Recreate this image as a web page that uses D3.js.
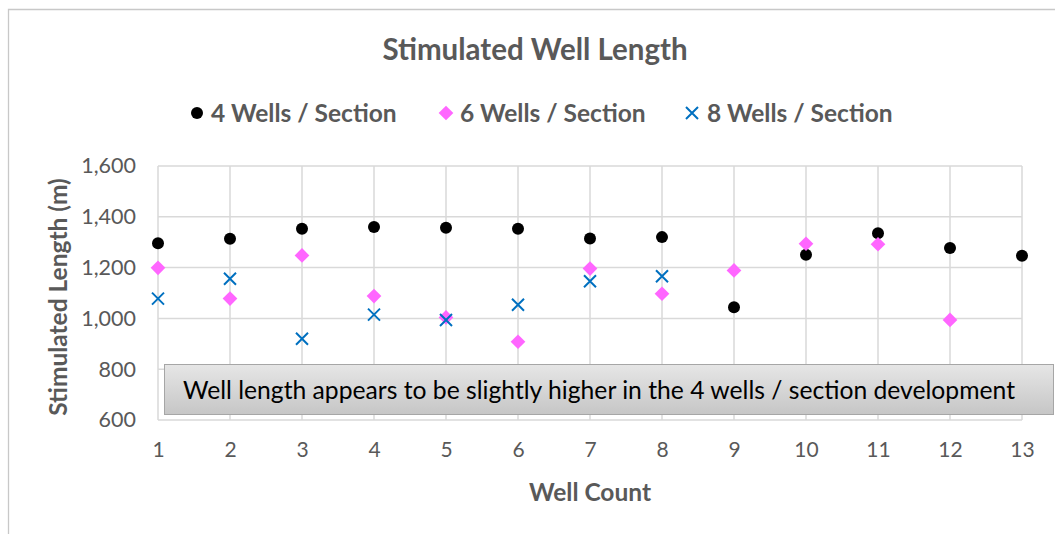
<!DOCTYPE html>
<html>
<head>
<meta charset="utf-8">
<script src="https://cdn.jsdelivr.net/npm/d3@7"></script>
<style>
  html, body { margin: 0; padding: 0; background: #fff; }
  svg { display: block; font-family: Lato, "Open Sans", sans-serif; }
</style>
</head>
<body>
<svg id="chart" width="1055" height="534"></svg>
<script>
// Well numbers along the x axis
const wells = [1, 2, 3, 4, 5, 6, 7, 8, 9, 10, 11, 12, 13];

// Stimulated length (m) per well for each spacing scenario
const fourWells  = [1296, 1314, 1353, 1360, 1357, 1353, 1315, 1320, 1044, 1251, 1335, 1277, 1247];
const sixWells   = [1199, 1078, 1248, 1088, 1004, 908, 1196, 1097, 1189, 1294, 1292, 994];
const eightWells = [1078, 1156, 920, 1015, 994, 1054, 1146, 1166];

const yTicks = [600, 800, 1000, 1200, 1400, 1600];
const seriesNames = ["4 Wells / Section", "6 Wells / Section", "8 Wells / Section"];
const noteText = "Well length appears to be slightly higher in the 4 wells / section development";

const W = 1055, H = 534;
const plot = { left: 158, right: 1022, top: 166, bottom: 420 };
const textColor = "#595959";
const gridColor = "#d9d9d9";

const svg = d3.select("#chart");

const x = d3.scaleLinear().domain([1, 13]).range([plot.left, plot.right]);
const y = d3.scaleLinear().domain([600, 1600]).range([plot.bottom, plot.top]);

// Chart frame
svg.append("path")
  .attr("d", `M8.5,${H} L8.5,9.5 L${W},9.5`)
  .attr("fill", "none").attr("stroke", "#c8c8c8").attr("stroke-width", 1.3);

// Title
svg.append("text")
  .attr("x", 535).attr("y", 60)
  .attr("text-anchor", "middle")
  .attr("font-size", 29.5).attr("font-weight", 700)
  .attr("fill", textColor)
  .text("Stimulated Well Length");

// Gridlines
const grid = svg.append("g");
grid.selectAll("line.h").data(yTicks).join("line")
  .attr("x1", plot.left).attr("x2", plot.right)
  .attr("y1", d => y(d)).attr("y2", d => y(d))
  .attr("stroke", gridColor).attr("stroke-width", 1.5);
grid.selectAll("line.v").data(wells).join("line")
  .attr("x1", d => x(d)).attr("x2", d => x(d))
  .attr("y1", plot.top).attr("y2", plot.bottom)
  .attr("stroke", gridColor).attr("stroke-width", 1.5);

// Axes (labels only)
const yAxis = svg.append("g")
  .attr("transform", `translate(${plot.left - 22},0)`)
  .call(d3.axisLeft(y).tickValues(yTicks).tickFormat(d3.format(",")).tickSize(0).tickPadding(0));
yAxis.select(".domain").remove();
yAxis.selectAll("text")
  .attr("font-size", 21.5).attr("fill", textColor)
  .attr("font-family", "Lato, sans-serif");

const xAxis = svg.append("g")
  .attr("transform", `translate(0,${plot.bottom + 22})`)
  .call(d3.axisBottom(x).tickValues(wells).tickFormat(d3.format("d")).tickSize(0).tickPadding(0));
xAxis.select(".domain").remove();
xAxis.selectAll("text")
  .attr("font-size", 21).attr("fill", textColor)
  .attr("font-family", "Lato, sans-serif");

// Axis titles
svg.append("text")
  .attr("transform", `translate(58,297) rotate(-90)`)
  .attr("dy", "0.35em")
  .attr("text-anchor", "middle")
  .attr("font-size", 24.5).attr("font-weight", 700).attr("fill", textColor)
  .text("Stimulated Length (m)");

svg.append("text")
  .attr("x", 590).attr("y", 492).attr("dy", "0.35em")
  .attr("text-anchor", "middle")
  .attr("font-size", 24.5).attr("font-weight", 700).attr("fill", textColor)
  .text("Well Count");

// Marker shapes
const circlePath = d3.symbol().type(d3.symbolCircle).size(Math.PI * 36)();
const diamondPath = d3.symbol().type(d3.symbolSquare).size(108)();
const crossPath = "M-6,-6L6,6M-6,6L6,-6";

function drawCircles(g, data) {
  g.selectAll("path").data(data).join("path")
    .attr("d", circlePath)
    .attr("transform", (d, i) => `translate(${x(wells[i])},${y(d)})`)
    .attr("fill", "#000");
}
function drawDiamonds(g, data) {
  g.selectAll("path").data(data).join("path")
    .attr("d", diamondPath)
    .attr("transform", (d, i) => `translate(${x(wells[i])},${y(d)}) rotate(45)`)
    .attr("fill", "#ff66ff");
}
function drawCrosses(g, data) {
  g.selectAll("path").data(data).join("path")
    .attr("d", crossPath)
    .attr("transform", (d, i) => `translate(${x(wells[i])},${y(d)})`)
    .attr("fill", "none").attr("stroke", "#0070c0").attr("stroke-width", 2);
}

drawCircles(svg.append("g"), fourWells);
drawDiamonds(svg.append("g"), sixWells);
drawCrosses(svg.append("g"), eightWells);

// Legend
const legend = svg.append("g").attr("transform", "translate(0,113)");
const legendItems = [
  { sx: 197, tx: 211, draw: g => g.append("path").attr("d", circlePath).attr("fill", "#000") },
  { sx: 446, tx: 460, draw: g => g.append("path").attr("d", diamondPath).attr("transform", "rotate(45)").attr("fill", "#ff66ff") },
  { sx: 692, tx: 707, draw: g => g.append("path").attr("d", crossPath).attr("fill", "none").attr("stroke", "#0070c0").attr("stroke-width", 2) }
];
legendItems.forEach((it, i) => {
  const g = legend.append("g").attr("transform", `translate(${it.sx},0)`);
  it.draw(g);
  legend.append("text")
    .attr("x", it.tx).attr("y", 0).attr("dy", "0.35em")
    .attr("font-size", 24.5).attr("font-weight", 700).attr("fill", textColor)
    .text(seriesNames[i]);
});

// Annotation box
const defs = svg.append("defs");
const grad = defs.append("linearGradient").attr("id", "noteFill")
  .attr("x1", 0).attr("y1", 0).attr("x2", 0).attr("y2", 1);
grad.append("stop").attr("offset", "0%").attr("stop-color", "#e6e6e6");
grad.append("stop").attr("offset", "100%").attr("stop-color", "#c6c6c6");

svg.append("rect")
  .attr("x", 164.5).attr("y", 364.5).attr("width", 889).attr("height", 50)
  .attr("fill", "url(#noteFill)").attr("stroke", "#a6a6a6").attr("stroke-width", 1);
svg.append("text")
  .attr("x", 599).attr("y", 390).attr("dy", "0.35em")
  .attr("text-anchor", "middle")
  .attr("font-size", 24.7).attr("fill", "#000")
  .text(noteText);
</script>
</body>
</html>
